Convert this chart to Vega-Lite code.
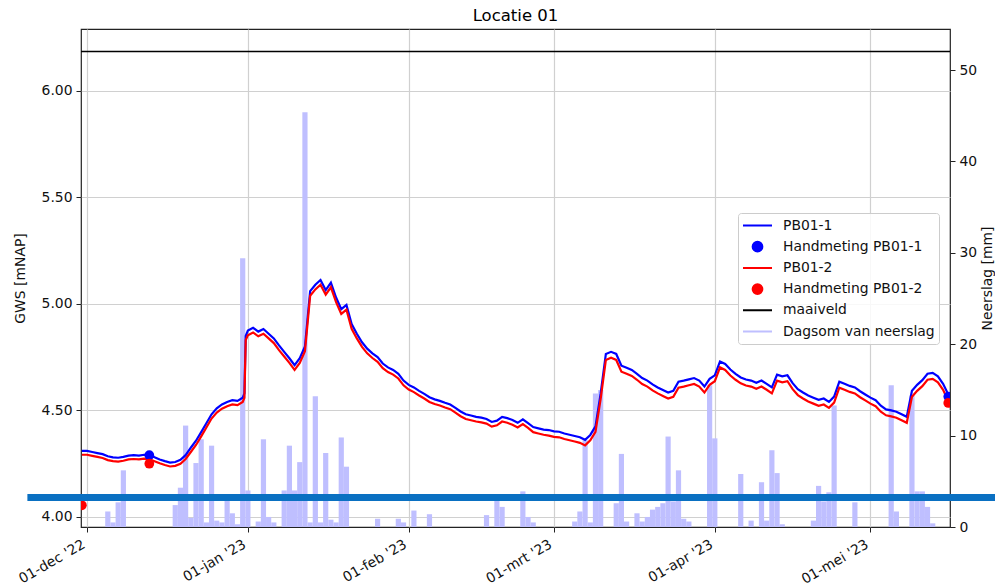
{
  "$schema": "https://vega.github.io/schema/vega-lite/v6.json",
  "width": 869,
  "height": 498,
  "autosize": {"type": "none"},
  "padding": {"left": 81, "top": 29, "right": 45, "bottom": 60},
  "title": {"text": "Locatie 01", "fontSize": 16.5, "fontWeight": "normal", "color": "#000", "frame": "group", "anchor": "middle", "baseline": "alphabetic", "offset": 7, "dy": 15},
  "config": {
    "font": "DejaVu Sans",
    "view": {"stroke": "#222", "strokeWidth": 1.2},
    "axis": {"domain": false, "tickColor": "#222", "tickSize": 5, "labelColor": "#111", "labelFontSize": 13.9, "titleFontSize": 13.9, "titleFontWeight": "normal", "titleColor": "#111", "gridColor": "#d0d0d0", "gridWidth": 1.2, "labelPadding": 4}
  },
  "datasets": {
    "neerslag": [
      {"date": "2022-12-05", "mm": 1.7}, {"date": "2022-12-06", "mm": 0.5}, {"date": "2022-12-07", "mm": 2.7}, {"date": "2022-12-08", "mm": 6.2},
      {"date": "2022-12-18", "mm": 2.4}, {"date": "2022-12-19", "mm": 4.3}, {"date": "2022-12-20", "mm": 11.1}, {"date": "2022-12-21", "mm": 1.0},
      {"date": "2022-12-22", "mm": 7.0}, {"date": "2022-12-23", "mm": 9.6}, {"date": "2022-12-24", "mm": 0.5}, {"date": "2022-12-25", "mm": 8.9},
      {"date": "2022-12-26", "mm": 0.7}, {"date": "2022-12-27", "mm": 0.5}, {"date": "2022-12-28", "mm": 3.0}, {"date": "2022-12-29", "mm": 1.5},
      {"date": "2022-12-30", "mm": 0.3}, {"date": "2022-12-31", "mm": 29.4}, {"date": "2023-01-01", "mm": 4.0}, {"date": "2023-01-03", "mm": 0.6},
      {"date": "2023-01-04", "mm": 9.6}, {"date": "2023-01-05", "mm": 1.1}, {"date": "2023-01-06", "mm": 0.5}, {"date": "2023-01-08", "mm": 4.0},
      {"date": "2023-01-09", "mm": 8.9}, {"date": "2023-01-10", "mm": 4.0}, {"date": "2023-01-11", "mm": 7.1}, {"date": "2023-01-12", "mm": 45.4},
      {"date": "2023-01-13", "mm": 0.5}, {"date": "2023-01-14", "mm": 14.3}, {"date": "2023-01-15", "mm": 0.5}, {"date": "2023-01-16", "mm": 8.1},
      {"date": "2023-01-17", "mm": 0.8}, {"date": "2023-01-18", "mm": 0.5}, {"date": "2023-01-19", "mm": 9.8}, {"date": "2023-01-20", "mm": 6.6},
      {"date": "2023-01-26", "mm": 0.9}, {"date": "2023-01-30", "mm": 0.9}, {"date": "2023-01-31", "mm": 0.5}, {"date": "2023-02-02", "mm": 1.8},
      {"date": "2023-02-05", "mm": 1.4}, {"date": "2023-02-16", "mm": 1.3}, {"date": "2023-02-18", "mm": 3.0}, {"date": "2023-02-19", "mm": 2.2},
      {"date": "2023-02-23", "mm": 3.9}, {"date": "2023-02-24", "mm": 1.1}, {"date": "2023-02-25", "mm": 0.5}, {"date": "2023-03-05", "mm": 0.6},
      {"date": "2023-03-06", "mm": 1.7}, {"date": "2023-03-07", "mm": 9.5}, {"date": "2023-03-08", "mm": 0.5}, {"date": "2023-03-09", "mm": 14.6},
      {"date": "2023-03-10", "mm": 15.0}, {"date": "2023-03-13", "mm": 2.6}, {"date": "2023-03-14", "mm": 8.0}, {"date": "2023-03-15", "mm": 0.6},
      {"date": "2023-03-17", "mm": 1.5}, {"date": "2023-03-18", "mm": 0.6}, {"date": "2023-03-19", "mm": 1.1}, {"date": "2023-03-20", "mm": 1.9},
      {"date": "2023-03-21", "mm": 2.2}, {"date": "2023-03-22", "mm": 2.6}, {"date": "2023-03-23", "mm": 9.9}, {"date": "2023-03-24", "mm": 2.8},
      {"date": "2023-03-25", "mm": 6.2}, {"date": "2023-03-26", "mm": 0.9}, {"date": "2023-03-27", "mm": 0.6}, {"date": "2023-03-31", "mm": 15.5},
      {"date": "2023-04-01", "mm": 9.7}, {"date": "2023-04-06", "mm": 5.8}, {"date": "2023-04-08", "mm": 0.7}, {"date": "2023-04-10", "mm": 4.9},
      {"date": "2023-04-11", "mm": 0.7}, {"date": "2023-04-12", "mm": 8.4}, {"date": "2023-04-13", "mm": 5.9}, {"date": "2023-04-14", "mm": 0.3},
      {"date": "2023-04-20", "mm": 0.7}, {"date": "2023-04-21", "mm": 4.5}, {"date": "2023-04-22", "mm": 2.8}, {"date": "2023-04-23", "mm": 3.8},
      {"date": "2023-04-24", "mm": 13.3}, {"date": "2023-04-28", "mm": 2.7}, {"date": "2023-05-05", "mm": 15.5}, {"date": "2023-05-06", "mm": 1.7},
      {"date": "2023-05-09", "mm": 14.4}, {"date": "2023-05-10", "mm": 3.9}, {"date": "2023-05-11", "mm": 3.9}, {"date": "2023-05-12", "mm": 2.2},
      {"date": "2023-05-13", "mm": 0.4}
    ],
    "gws": [
      {"date": "2022-11-30", "PB01-1": 4.310, "PB01-2": 4.292},
      {"date": "2022-12-01", "PB01-1": 4.310, "PB01-2": 4.292},
      {"date": "2022-12-02", "PB01-1": 4.305, "PB01-2": 4.287},
      {"date": "2022-12-03", "PB01-1": 4.300, "PB01-2": 4.282},
      {"date": "2022-12-04", "PB01-1": 4.295, "PB01-2": 4.277},
      {"date": "2022-12-05", "PB01-1": 4.285, "PB01-2": 4.267},
      {"date": "2022-12-06", "PB01-1": 4.280, "PB01-2": 4.262},
      {"date": "2022-12-07", "PB01-1": 4.278, "PB01-2": 4.260},
      {"date": "2022-12-08", "PB01-1": 4.282, "PB01-2": 4.264},
      {"date": "2022-12-09", "PB01-1": 4.288, "PB01-2": 4.270},
      {"date": "2022-12-10", "PB01-1": 4.290, "PB01-2": 4.272},
      {"date": "2022-12-11", "PB01-1": 4.288, "PB01-2": 4.270},
      {"date": "2022-12-12", "PB01-1": 4.292, "PB01-2": 4.274},
      {"date": "2022-12-13", "PB01-1": 4.290, "PB01-2": 4.272},
      {"date": "2022-12-14", "PB01-1": 4.280, "PB01-2": 4.262},
      {"date": "2022-12-15", "PB01-1": 4.270, "PB01-2": 4.252},
      {"date": "2022-12-16", "PB01-1": 4.262, "PB01-2": 4.244},
      {"date": "2022-12-17", "PB01-1": 4.255, "PB01-2": 4.237},
      {"date": "2022-12-18", "PB01-1": 4.258, "PB01-2": 4.240},
      {"date": "2022-12-19", "PB01-1": 4.268, "PB01-2": 4.250},
      {"date": "2022-12-20", "PB01-1": 4.290, "PB01-2": 4.272},
      {"date": "2022-12-21", "PB01-1": 4.325, "PB01-2": 4.305},
      {"date": "2022-12-22", "PB01-1": 4.358, "PB01-2": 4.338},
      {"date": "2022-12-23", "PB01-1": 4.398, "PB01-2": 4.378},
      {"date": "2022-12-24", "PB01-1": 4.440, "PB01-2": 4.420},
      {"date": "2022-12-25", "PB01-1": 4.482, "PB01-2": 4.462},
      {"date": "2022-12-26", "PB01-1": 4.510, "PB01-2": 4.490},
      {"date": "2022-12-27", "PB01-1": 4.528, "PB01-2": 4.508},
      {"date": "2022-12-28", "PB01-1": 4.540, "PB01-2": 4.520},
      {"date": "2022-12-29", "PB01-1": 4.548, "PB01-2": 4.528},
      {"date": "2022-12-30", "PB01-1": 4.545, "PB01-2": 4.525},
      {"date": "2022-12-31T00:00:00Z", "PB01-1": 4.560, "PB01-2": 4.540},
      {"date": "2022-12-31T08:00:00Z", "PB01-1": 4.580, "PB01-2": 4.560},
      {"date": "2022-12-31T14:00:00Z", "PB01-1": 4.850, "PB01-2": 4.830},
      {"date": "2023-01-01", "PB01-1": 4.875, "PB01-2": 4.853},
      {"date": "2023-01-02", "PB01-1": 4.888, "PB01-2": 4.866},
      {"date": "2023-01-03", "PB01-1": 4.870, "PB01-2": 4.848},
      {"date": "2023-01-04", "PB01-1": 4.882, "PB01-2": 4.860},
      {"date": "2023-01-05", "PB01-1": 4.860, "PB01-2": 4.838},
      {"date": "2023-01-06", "PB01-1": 4.838, "PB01-2": 4.816},
      {"date": "2023-01-07", "PB01-1": 4.805, "PB01-2": 4.783},
      {"date": "2023-01-08", "PB01-1": 4.775, "PB01-2": 4.753},
      {"date": "2023-01-09", "PB01-1": 4.745, "PB01-2": 4.723},
      {"date": "2023-01-10", "PB01-1": 4.712, "PB01-2": 4.690},
      {"date": "2023-01-11", "PB01-1": 4.745, "PB01-2": 4.723},
      {"date": "2023-01-12", "PB01-1": 4.800, "PB01-2": 4.778},
      {"date": "2023-01-13", "PB01-1": 5.060, "PB01-2": 5.038},
      {"date": "2023-01-14", "PB01-1": 5.090, "PB01-2": 5.068},
      {"date": "2023-01-15", "PB01-1": 5.112, "PB01-2": 5.090},
      {"date": "2023-01-16", "PB01-1": 5.065, "PB01-2": 5.043},
      {"date": "2023-01-17", "PB01-1": 5.100, "PB01-2": 5.078},
      {"date": "2023-01-18", "PB01-1": 5.030, "PB01-2": 5.008},
      {"date": "2023-01-19", "PB01-1": 4.975, "PB01-2": 4.953},
      {"date": "2023-01-20", "PB01-1": 4.995, "PB01-2": 4.973},
      {"date": "2023-01-21", "PB01-1": 4.905, "PB01-2": 4.883},
      {"date": "2023-01-22", "PB01-1": 4.860, "PB01-2": 4.838},
      {"date": "2023-01-23", "PB01-1": 4.820, "PB01-2": 4.798},
      {"date": "2023-01-24", "PB01-1": 4.790, "PB01-2": 4.768},
      {"date": "2023-01-25", "PB01-1": 4.768, "PB01-2": 4.746},
      {"date": "2023-01-26", "PB01-1": 4.750, "PB01-2": 4.728},
      {"date": "2023-01-27", "PB01-1": 4.720, "PB01-2": 4.698},
      {"date": "2023-01-28", "PB01-1": 4.702, "PB01-2": 4.680},
      {"date": "2023-01-29", "PB01-1": 4.690, "PB01-2": 4.668},
      {"date": "2023-01-30", "PB01-1": 4.672, "PB01-2": 4.650},
      {"date": "2023-01-31", "PB01-1": 4.640, "PB01-2": 4.618},
      {"date": "2023-02-01", "PB01-1": 4.620, "PB01-2": 4.598},
      {"date": "2023-02-02", "PB01-1": 4.608, "PB01-2": 4.586},
      {"date": "2023-02-03", "PB01-1": 4.592, "PB01-2": 4.570},
      {"date": "2023-02-04", "PB01-1": 4.578, "PB01-2": 4.556},
      {"date": "2023-02-05", "PB01-1": 4.562, "PB01-2": 4.540},
      {"date": "2023-02-06", "PB01-1": 4.552, "PB01-2": 4.530},
      {"date": "2023-02-07", "PB01-1": 4.545, "PB01-2": 4.523},
      {"date": "2023-02-08", "PB01-1": 4.536, "PB01-2": 4.514},
      {"date": "2023-02-09", "PB01-1": 4.528, "PB01-2": 4.506},
      {"date": "2023-02-10", "PB01-1": 4.512, "PB01-2": 4.490},
      {"date": "2023-02-11", "PB01-1": 4.495, "PB01-2": 4.473},
      {"date": "2023-02-12", "PB01-1": 4.482, "PB01-2": 4.460},
      {"date": "2023-02-13", "PB01-1": 4.476, "PB01-2": 4.454},
      {"date": "2023-02-14", "PB01-1": 4.470, "PB01-2": 4.448},
      {"date": "2023-02-15", "PB01-1": 4.466, "PB01-2": 4.444},
      {"date": "2023-02-16", "PB01-1": 4.460, "PB01-2": 4.438},
      {"date": "2023-02-17", "PB01-1": 4.446, "PB01-2": 4.424},
      {"date": "2023-02-18", "PB01-1": 4.452, "PB01-2": 4.430},
      {"date": "2023-02-19", "PB01-1": 4.470, "PB01-2": 4.448},
      {"date": "2023-02-20", "PB01-1": 4.464, "PB01-2": 4.442},
      {"date": "2023-02-21", "PB01-1": 4.455, "PB01-2": 4.433},
      {"date": "2023-02-22", "PB01-1": 4.442, "PB01-2": 4.420},
      {"date": "2023-02-23", "PB01-1": 4.458, "PB01-2": 4.436},
      {"date": "2023-02-24", "PB01-1": 4.440, "PB01-2": 4.418},
      {"date": "2023-02-25", "PB01-1": 4.422, "PB01-2": 4.398},
      {"date": "2023-02-26", "PB01-1": 4.416, "PB01-2": 4.392},
      {"date": "2023-02-27", "PB01-1": 4.410, "PB01-2": 4.386},
      {"date": "2023-02-28", "PB01-1": 4.408, "PB01-2": 4.382},
      {"date": "2023-03-01", "PB01-1": 4.402, "PB01-2": 4.376},
      {"date": "2023-03-02", "PB01-1": 4.400, "PB01-2": 4.374},
      {"date": "2023-03-03", "PB01-1": 4.392, "PB01-2": 4.366},
      {"date": "2023-03-04", "PB01-1": 4.386, "PB01-2": 4.360},
      {"date": "2023-03-05", "PB01-1": 4.380, "PB01-2": 4.354},
      {"date": "2023-03-06", "PB01-1": 4.374, "PB01-2": 4.348},
      {"date": "2023-03-07", "PB01-1": 4.362, "PB01-2": 4.336},
      {"date": "2023-03-08", "PB01-1": 4.385, "PB01-2": 4.360},
      {"date": "2023-03-09", "PB01-1": 4.425, "PB01-2": 4.400},
      {"date": "2023-03-10", "PB01-1": 4.580, "PB01-2": 4.555},
      {"date": "2023-03-11", "PB01-1": 4.765, "PB01-2": 4.737},
      {"date": "2023-03-12", "PB01-1": 4.775, "PB01-2": 4.747},
      {"date": "2023-03-13", "PB01-1": 4.765, "PB01-2": 4.737},
      {"date": "2023-03-14", "PB01-1": 4.710, "PB01-2": 4.682},
      {"date": "2023-03-15", "PB01-1": 4.700, "PB01-2": 4.672},
      {"date": "2023-03-16", "PB01-1": 4.690, "PB01-2": 4.662},
      {"date": "2023-03-17", "PB01-1": 4.672, "PB01-2": 4.644},
      {"date": "2023-03-18", "PB01-1": 4.652, "PB01-2": 4.624},
      {"date": "2023-03-19", "PB01-1": 4.640, "PB01-2": 4.612},
      {"date": "2023-03-20", "PB01-1": 4.622, "PB01-2": 4.594},
      {"date": "2023-03-21", "PB01-1": 4.608, "PB01-2": 4.580},
      {"date": "2023-03-22", "PB01-1": 4.596, "PB01-2": 4.568},
      {"date": "2023-03-23", "PB01-1": 4.584, "PB01-2": 4.556},
      {"date": "2023-03-24", "PB01-1": 4.592, "PB01-2": 4.564},
      {"date": "2023-03-25", "PB01-1": 4.635, "PB01-2": 4.607},
      {"date": "2023-03-26", "PB01-1": 4.640, "PB01-2": 4.612},
      {"date": "2023-03-27", "PB01-1": 4.646, "PB01-2": 4.618},
      {"date": "2023-03-28", "PB01-1": 4.652, "PB01-2": 4.624},
      {"date": "2023-03-29", "PB01-1": 4.640, "PB01-2": 4.612},
      {"date": "2023-03-30", "PB01-1": 4.612, "PB01-2": 4.584},
      {"date": "2023-03-31", "PB01-1": 4.648, "PB01-2": 4.620},
      {"date": "2023-04-01", "PB01-1": 4.665, "PB01-2": 4.637},
      {"date": "2023-04-02", "PB01-1": 4.730, "PB01-2": 4.702},
      {"date": "2023-04-03", "PB01-1": 4.718, "PB01-2": 4.690},
      {"date": "2023-04-04", "PB01-1": 4.692, "PB01-2": 4.664},
      {"date": "2023-04-05", "PB01-1": 4.672, "PB01-2": 4.644},
      {"date": "2023-04-06", "PB01-1": 4.655, "PB01-2": 4.627},
      {"date": "2023-04-07", "PB01-1": 4.645, "PB01-2": 4.617},
      {"date": "2023-04-08", "PB01-1": 4.640, "PB01-2": 4.612},
      {"date": "2023-04-09", "PB01-1": 4.630, "PB01-2": 4.602},
      {"date": "2023-04-10", "PB01-1": 4.640, "PB01-2": 4.612},
      {"date": "2023-04-11", "PB01-1": 4.625, "PB01-2": 4.597},
      {"date": "2023-04-12", "PB01-1": 4.608, "PB01-2": 4.580},
      {"date": "2023-04-13", "PB01-1": 4.668, "PB01-2": 4.640},
      {"date": "2023-04-14", "PB01-1": 4.660, "PB01-2": 4.632},
      {"date": "2023-04-15", "PB01-1": 4.665, "PB01-2": 4.637},
      {"date": "2023-04-16", "PB01-1": 4.628, "PB01-2": 4.600},
      {"date": "2023-04-17", "PB01-1": 4.600, "PB01-2": 4.572},
      {"date": "2023-04-18", "PB01-1": 4.584, "PB01-2": 4.556},
      {"date": "2023-04-19", "PB01-1": 4.570, "PB01-2": 4.542},
      {"date": "2023-04-20", "PB01-1": 4.560, "PB01-2": 4.532},
      {"date": "2023-04-21", "PB01-1": 4.550, "PB01-2": 4.522},
      {"date": "2023-04-22", "PB01-1": 4.556, "PB01-2": 4.528},
      {"date": "2023-04-23", "PB01-1": 4.540, "PB01-2": 4.512},
      {"date": "2023-04-24", "PB01-1": 4.565, "PB01-2": 4.537},
      {"date": "2023-04-25", "PB01-1": 4.635, "PB01-2": 4.607},
      {"date": "2023-04-26", "PB01-1": 4.625, "PB01-2": 4.597},
      {"date": "2023-04-27", "PB01-1": 4.615, "PB01-2": 4.587},
      {"date": "2023-04-28", "PB01-1": 4.608, "PB01-2": 4.580},
      {"date": "2023-04-29", "PB01-1": 4.590, "PB01-2": 4.562},
      {"date": "2023-04-30", "PB01-1": 4.575, "PB01-2": 4.547},
      {"date": "2023-05-01", "PB01-1": 4.560, "PB01-2": 4.532},
      {"date": "2023-05-02", "PB01-1": 4.548, "PB01-2": 4.520},
      {"date": "2023-05-03", "PB01-1": 4.522, "PB01-2": 4.494},
      {"date": "2023-05-04", "PB01-1": 4.505, "PB01-2": 4.477},
      {"date": "2023-05-05", "PB01-1": 4.500, "PB01-2": 4.472},
      {"date": "2023-05-06", "PB01-1": 4.494, "PB01-2": 4.466},
      {"date": "2023-05-07", "PB01-1": 4.482, "PB01-2": 4.454},
      {"date": "2023-05-08", "PB01-1": 4.470, "PB01-2": 4.442},
      {"date": "2023-05-09", "PB01-1": 4.592, "PB01-2": 4.564},
      {"date": "2023-05-10", "PB01-1": 4.620, "PB01-2": 4.592},
      {"date": "2023-05-11", "PB01-1": 4.642, "PB01-2": 4.614},
      {"date": "2023-05-12", "PB01-1": 4.672, "PB01-2": 4.644},
      {"date": "2023-05-13", "PB01-1": 4.676, "PB01-2": 4.648},
      {"date": "2023-05-14", "PB01-1": 4.660, "PB01-2": 4.632},
      {"date": "2023-05-15", "PB01-1": 4.625, "PB01-2": 4.597},
      {"date": "2023-05-16", "PB01-1": 4.575, "PB01-2": 4.545},
      {"date": "2023-05-16T12:00:00Z", "PB01-1": 4.560, "PB01-2": 4.530}
    ],
    "handmeting": [
      {"date": "2022-11-30", "series": "Handmeting PB01-2", "value": 4.055},
      {"date": "2022-12-13", "series": "Handmeting PB01-1", "value": 4.29},
      {"date": "2022-12-13", "series": "Handmeting PB01-2", "value": 4.25},
      {"date": "2023-05-16", "series": "Handmeting PB01-1", "value": 4.565},
      {"date": "2023-05-16", "series": "Handmeting PB01-2", "value": 4.535}
    ],
    "maaiveld": [{"series": "maaiveld", "value": 6.184}],
    "markering": [{"start": "2022-11-19T12:00:00Z", "end": "2023-05-27T00:00:00Z", "level": 4.092}]
  },
  "layer": [
    {
      "data": {"name": "neerslag"},
      "transform": [{"calculate": "'Dagsom van neerslag'", "as": "series"}],
      "mark": {"type": "bar", "width": 5.2, "opacity": 1},
      "encoding": {
        "x": {
          "field": "date", "type": "temporal",
          "scale": {"type": "utc", "padding": 0, "domain": [{"year": 2022, "month": 11, "date": 29, "hours": 20, "utc": true}, {"year": 2023, "month": 5, "date": 16, "hours": 8, "utc": true}]},
          "axis": {
            "title": null, "grid": true,
            "values": [{"year": 2022, "month": 12, "date": 1, "utc": true}, {"year": 2023, "month": 1, "date": 1, "utc": true}, {"year": 2023, "month": 2, "date": 1, "utc": true}, {"year": 2023, "month": 3, "date": 1, "utc": true}, {"year": 2023, "month": 4, "date": 1, "utc": true}, {"year": 2023, "month": 5, "date": 1, "utc": true}],
            "labelExpr": "utcFormat(datum.value, '%d') + '-' + ['jan','feb','mrt','apr','mei','jun','jul','aug','sep','okt','nov','dec'][utcmonth(datum.value)] + \" '\" + utcFormat(datum.value, '%y')",
            "labelAngle": -30, "labelAlign": "right", "labelBaseline": "top", "labelPadding": 5, "labelOffset": -7, "labelFlush": false, "labelOverlap": false
          }
        },
        "y": {
          "field": "mm", "type": "quantitative",
          "scale": {"domain": [0, 54.5], "nice": false, "zero": true},
          "axis": {"orient": "right", "title": "Neerslag [mm]", "values": [0, 10, 20, 30, 40, 50], "grid": false, "titleAngle": -90, "titlePadding": 18}
        },
        "color": {
          "field": "series", "type": "nominal",
          "scale": {"domain": ["PB01-1", "Handmeting PB01-1", "PB01-2", "Handmeting PB01-2", "maaiveld", "Dagsom van neerslag"], "range": ["#0000ff", "#0000ff", "#ff0000", "#ff0000", "#000000", "#bfbfff"]}
        }
      }
    },
    {
      "layer": [
        {
          "data": {"name": "gws"},
          "transform": [{"fold": ["PB01-1", "PB01-2"], "as": ["series", "value"]}],
          "mark": {"type": "line", "strokeWidth": 2.2, "clip": true},
          "encoding": {
            "x": {"field": "date", "type": "temporal", "title": null, "scale": {"type": "utc", "padding": 0, "domain": [{"year": 2022, "month": 11, "date": 29, "hours": 20, "utc": true}, {"year": 2023, "month": 5, "date": 16, "hours": 8, "utc": true}]}},
            "y": {
              "field": "value", "type": "quantitative",
              "scale": {"domain": [3.953, 6.29], "nice": false, "zero": false},
              "axis": {"orient": "left", "title": "GWS [mNAP]", "values": [4, 4.5, 5, 5.5, 6], "format": ".2f", "grid": true, "titlePadding": 14}
            },
            "color": {
              "field": "series", "type": "nominal",
              "scale": {"domain": ["PB01-1", "Handmeting PB01-1", "PB01-2", "Handmeting PB01-2", "maaiveld", "Dagsom van neerslag"], "range": ["#0000ff", "#0000ff", "#ff0000", "#ff0000", "#000000", "#bfbfff"]}
            }
          }
        },
        {
          "data": {"name": "maaiveld"},
          "mark": {"type": "rule", "strokeWidth": 1.5},
          "encoding": {
            "y": {"field": "value", "type": "quantitative", "scale": {"domain": [3.953, 6.29], "nice": false, "zero": false}},
            "color": {
              "field": "series", "type": "nominal",
              "scale": {"domain": ["PB01-1", "Handmeting PB01-1", "PB01-2", "Handmeting PB01-2", "maaiveld", "Dagsom van neerslag"], "range": ["#0000ff", "#0000ff", "#ff0000", "#ff0000", "#000000", "#bfbfff"]}
            }
          }
        },
        {
          "data": {"name": "handmeting"},
          "mark": {"type": "point", "filled": true, "opacity": 1, "clip": true},
          "encoding": {
            "x": {"field": "date", "type": "temporal", "title": null, "scale": {"type": "utc", "padding": 0, "domain": [{"year": 2022, "month": 11, "date": 29, "hours": 20, "utc": true}, {"year": 2023, "month": 5, "date": 16, "hours": 8, "utc": true}]}},
            "y": {"field": "value", "type": "quantitative", "scale": {"domain": [3.953, 6.29], "nice": false, "zero": false}},
            "color": {
              "field": "series", "type": "nominal",
              "scale": {"domain": ["PB01-1", "Handmeting PB01-1", "PB01-2", "Handmeting PB01-2", "maaiveld", "Dagsom van neerslag"], "range": ["#0000ff", "#0000ff", "#ff0000", "#ff0000", "#000000", "#bfbfff"]},
              "legend": {
                "orient": "none", "legendX": 657, "legendY": 184, "title": null,
                "padding": 4, "fillColor": "rgba(255,255,255,0.85)", "strokeColor": "#cccccc", "cornerRadius": 3,
                "labelFontSize": 13.9, "labelColor": "#111", "symbolOffset": 0, "labelOffset": 10, "rowPadding": 4.2, "clipHeight": 17, "symbolStrokeWidth": 2
              }
            },
            "shape": {
              "field": "series", "type": "nominal",
              "scale": {"domain": ["PB01-1", "Handmeting PB01-1", "PB01-2", "Handmeting PB01-2", "maaiveld", "Dagsom van neerslag"], "range": ["stroke", "circle", "stroke", "circle", "stroke", "stroke"]},
              "legend": {"orient": "none", "legendX": 657, "legendY": 184, "title": null}
            },
            "size": {
              "field": "series", "type": "nominal",
              "scale": {"type": "ordinal", "domain": ["PB01-1", "Handmeting PB01-1", "PB01-2", "Handmeting PB01-2", "maaiveld", "Dagsom van neerslag"], "range": [841, 95, 841, 95, 841, 841]},
              "legend": {"orient": "none", "legendX": 657, "legendY": 184, "title": null}
            }
          }
        },
        {
          "data": {"name": "markering"},
          "mark": {"type": "rule", "strokeWidth": 7, "color": "#0a70c2", "clip": false},
          "encoding": {
            "x": {"field": "start", "type": "temporal", "title": null, "scale": {"type": "utc", "padding": 0, "domain": [{"year": 2022, "month": 11, "date": 29, "hours": 20, "utc": true}, {"year": 2023, "month": 5, "date": 16, "hours": 8, "utc": true}]}},
            "x2": {"field": "end"},
            "y": {"field": "level", "type": "quantitative", "scale": {"domain": [3.953, 6.29], "nice": false, "zero": false}}
          }
        }
      ]
    }
  ],
  "resolve": {"scale": {"y": "independent"}}
}
